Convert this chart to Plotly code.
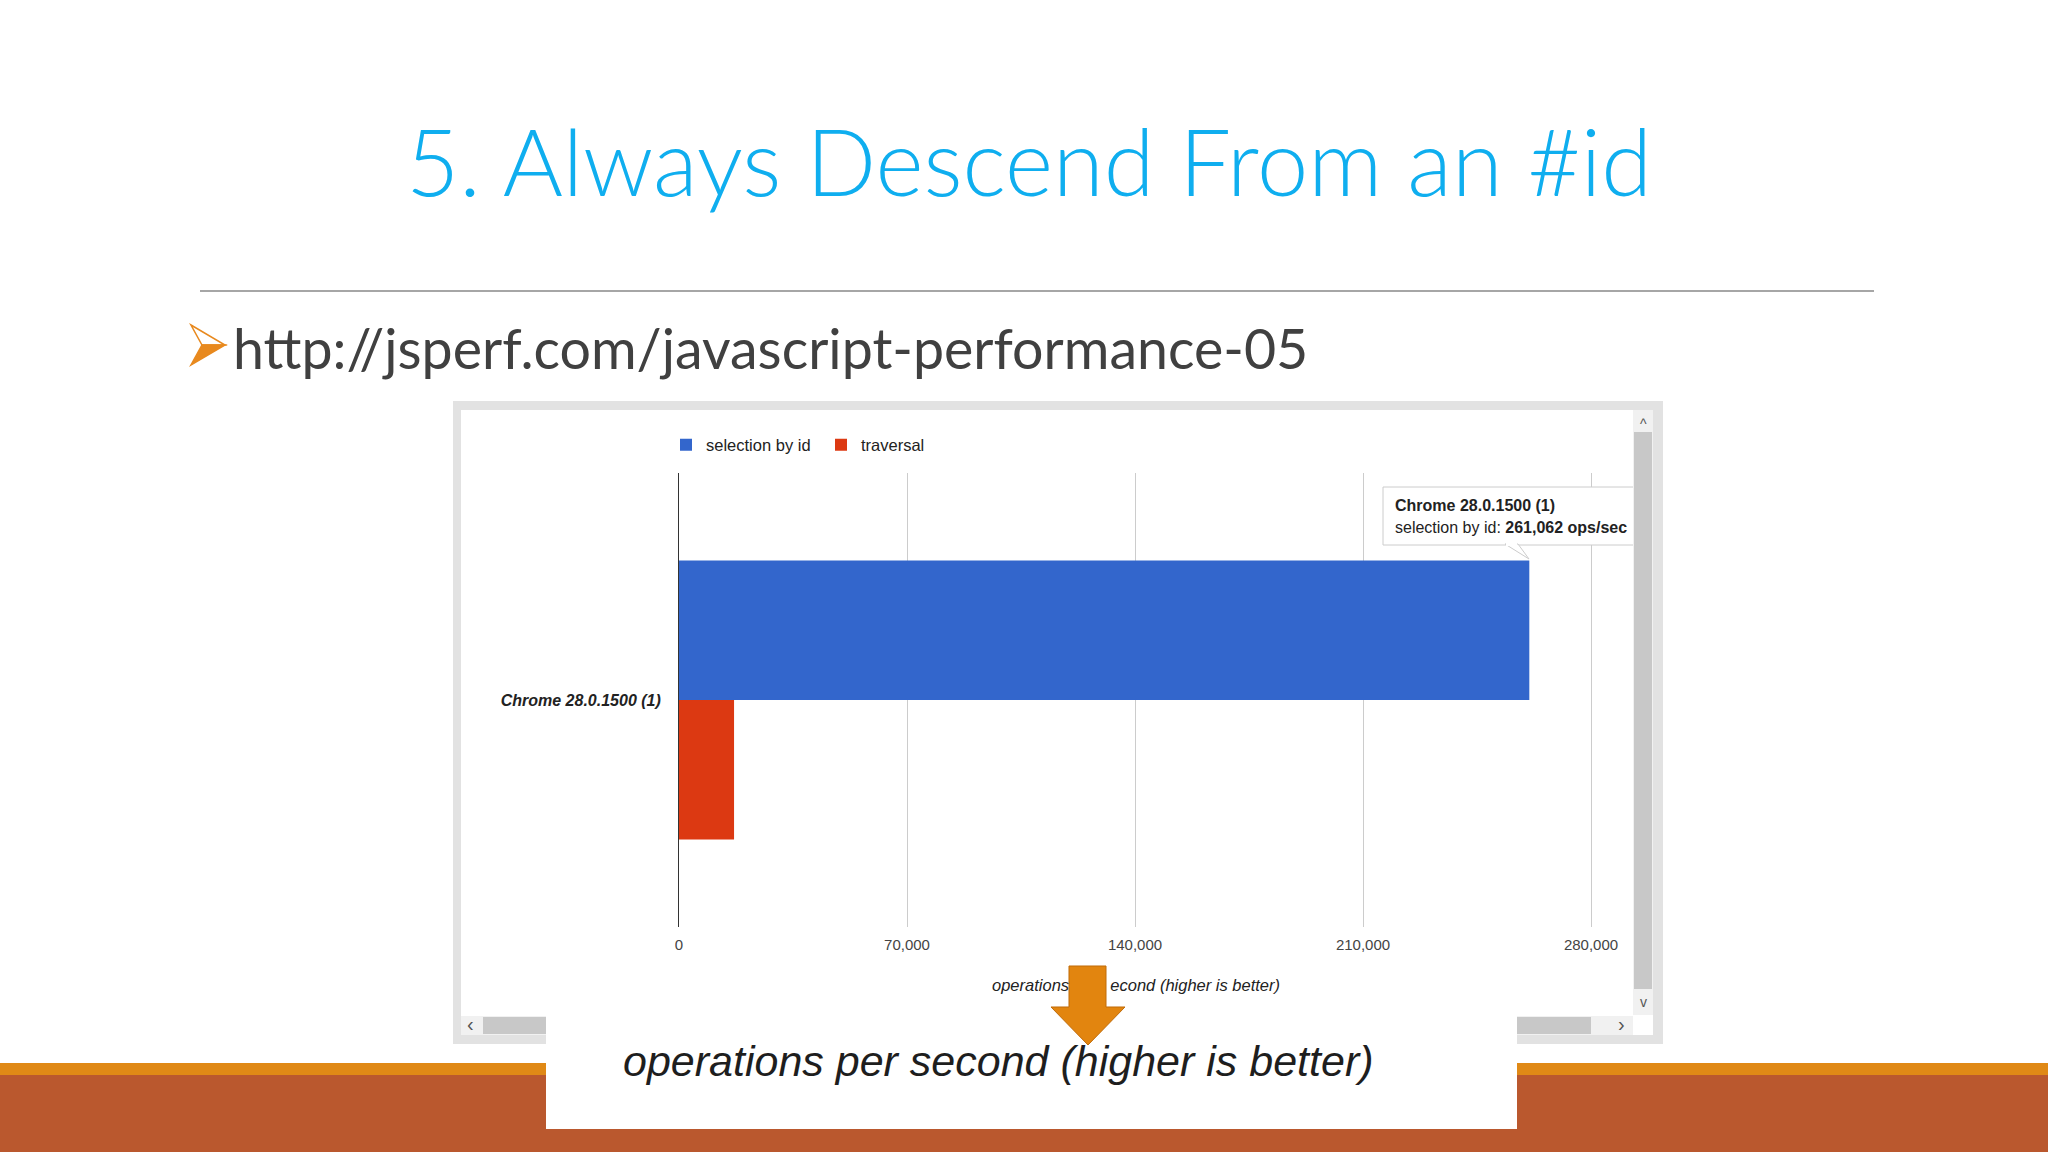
import plotly.graph_objects as go

W, H = 2048, 1152

# data
browsers = ["Chrome 28.0.1500 (1)"]
selection_by_id = [261062]
traversal = [16900]
tick_values = [0, 70000, 140000, 210000, 280000]
tick_labels = ["0", "70,000", "140,000", "210,000", "280,000"]

BLUE = "#3366CC"
RED = "#DC3912"
CHART_FONT = "Arial, Liberation Sans, sans-serif"
SLIDE_FONT = "Lato, Open Sans, sans-serif"


def px(x):
    return x / W


def py(y):
    return 1 - y / H


def rect(x0, y0, x1, y1, fill, line=None, width=1, layer="above"):
    return dict(
        type="rect", xref="paper", yref="paper",
        x0=px(x0), x1=px(x1), y0=py(y0), y1=py(y1),
        fillcolor=fill, line=dict(color=line or fill, width=width if line else 0),
        layer=layer,
    )


def poly(points, fill, line=None, width=1, layer="above"):
    path = "M " + " L ".join(f"{px(x):.5f},{py(y):.5f}" for x, y in points) + " Z"
    return dict(
        type="path", xref="paper", yref="paper", path=path,
        fillcolor=fill, line=dict(color=line or fill, width=width if line else 0),
        layer=layer,
    )


def text(s, x, y, size, color="#222222", family=CHART_FONT, xanchor="center",
         yanchor="middle", **font_kw):
    return dict(
        text=s, x=px(x), y=py(y), xref="paper", yref="paper",
        xanchor=xanchor, yanchor=yanchor, showarrow=False,
        font=dict(size=size, color=color, family=family, **font_kw),
    )


fig = go.Figure()
fig.add_trace(go.Bar(name="selection by id", y=browsers, x=selection_by_id,
                     orientation="h", marker=dict(color=BLUE, line_width=0)))
fig.add_trace(go.Bar(name="traversal", y=browsers, x=traversal,
                     orientation="h", marker=dict(color=RED, line_width=0)))

# plot area: x=0 at 679px, 280,000 at 1591px; rows 473..927px
x_max = 282000
x_right = 679 + 912 * x_max / 280000

shapes = [
    # screenshot frame
    rect(453, 401, 1663, 1044, "#e2e2e2", layer="below"),
    rect(461, 410, 1653, 1035, "#ffffff", layer="below"),
    # tooltip
    rect(1383, 487, 1660, 545, "#ffffff", line="#cccccc"),
    poly([(1505, 544), (1518, 544), (1529, 559)], "#ffffff", line="#cccccc"),
    rect(1506, 543, 1517, 546, "#ffffff"),
    # vertical scrollbar
    rect(1633, 410, 1653, 1015, "#f1f1f1"),
    rect(1634, 432, 1652, 989, "#c8c8c8"),
    rect(1653, 401, 1663, 1044, "#e2e2e2"),
    # horizontal scrollbar
    rect(461, 1016, 1633, 1035, "#f1f1f1"),
    rect(483, 1017, 1591, 1034, "#c8c8c8"),
    rect(1633, 1015, 1653, 1035, "#ffffff"),
    # slide footer bands
    rect(0, 1063, W, 1075, "#E08916"),
    rect(0, 1075, W, H, "#BA582E"),
    # pasted caption box
    rect(546, 1013, 1517, 1129, "#ffffff"),
    # orange callout arrow
    poly([(1069, 966), (1106, 966), (1106, 1007), (1125, 1007), (1088, 1045),
          (1051, 1007), (1069, 1007)], "#E2850F", line="#C06C0A", width=1),
    # rule under the title
    dict(type="line", xref="paper", yref="paper", x0=px(200), x1=px(1874),
         y0=py(291), y1=py(291), line=dict(color="#a6a6a6", width=2)),
    # bullet arrowhead
    poly([(191, 325), (225, 345), (202, 345)], "#ffffff", line="#E8891E", width=1.5),
    poly([(202, 345), (225, 345), (191, 365)], "#E8891E", line="#E8891E", width=1.5),
]

annotations = [
    text("5. Always Descend From an #id", 1029, 161, 92, color="#0FAEEF",
         family=SLIDE_FONT, weight=300),
    text("http://jsperf.com/javascript-performance-05", 231, 347, 55.5,
         color="#404040", family=SLIDE_FONT, xanchor="left"),
    text("Chrome 28.0.1500 (1)", 1393, 505, 16, color="#222222",
         xanchor="left", weight="bold"),
    text("selection by id: <b>261,062 ops/sec</b>", 1393, 527, 16,
         color="#222222", xanchor="left"),
    text("^", 1643, 424, 14, color="#555555"),
    text("v", 1643, 1002, 14, color="#555555"),
    text("‹", 470, 1024, 20, color="#555555"),
    text("›", 1621, 1024, 20, color="#555555"),
    # in-chart axis title, partly hidden behind the orange arrow
    text("operations<span style='color:rgba(0,0,0,0)'> per s</span>econd (higher is better)",
         1136, 985, 16.5, style="italic"),
    text("operations per second (higher is better)", 998, 1061, 43,
         color="#1e1e1e", style="italic"),
]

fig.update_layout(
    width=W, height=H,
    margin=dict(l=0, r=0, t=0, b=0, autoexpand=False),
    paper_bgcolor="#ffffff",
    plot_bgcolor="rgba(0,0,0,0)",
    barmode="group",
    bargap=0.385,
    bargroupgap=0,
    showlegend=True,
    legend=dict(
        orientation="h", x=px(666), y=py(445), xanchor="left", yanchor="middle",
        entrywidth=110, entrywidthmode="pixels",
        font=dict(size=16.5, color="#222222", family=CHART_FONT),
        bgcolor="rgba(0,0,0,0)",
    ),
    xaxis=dict(
        domain=[px(679), px(x_right)], range=[0, x_max], automargin=False,
        tickvals=tick_values, ticktext=tick_labels,
        showgrid=True, gridcolor="#cccccc", gridwidth=1, zeroline=False,
        ticks="", ticklabelstandoff=7,
        tickfont=dict(size=15, color="#444444", family=CHART_FONT),
    ),
    yaxis=dict(
        domain=[py(927), py(473)], autorange="reversed", automargin=False,
        showline=True, linecolor="#333333", linewidth=1,
        showgrid=False, zeroline=False, ticks="", ticklabelstandoff=14,
        tickfont=dict(size=16, color="#222222", family=CHART_FONT,
                      style="italic", weight="bold"),
    ),
    shapes=shapes,
    annotations=annotations,
)

# the page's default body margin and scrollbars would shift the fixed-size figure
fig.write_html(
    "out.html",
    config={"displayModeBar": False},
    post_script="document.body.style.margin = '0'; document.body.style.overflow = 'hidden';",
)
